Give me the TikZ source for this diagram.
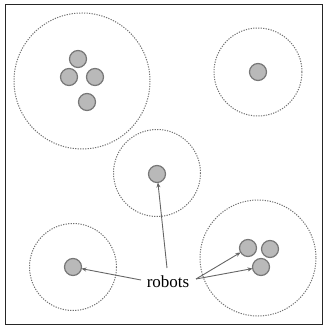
\documentclass[tikz,border=0pt]{standalone}
\usepackage{fontspec}
\setmainfont{Liberation Serif}
\usetikzlibrary{arrows.meta}
\definecolor{rfill}{HTML}{B9B9B9}
\definecolor{rline}{HTML}{777777}
\definecolor{zone}{HTML}{707070}
\tikzset{
  robot/.style={circle, draw=rline, fill=rfill, line width=1.2pt, minimum size=17pt, inner sep=0pt},
  zonecirc/.style={draw=zone, line width=1pt, dash pattern=on 1.2pt off 1.3pt},
  pointer/.style={draw=gray!80!black, line width=0.9pt, -{Stealth[length=5pt,width=4pt,fill=black]}, shorten >=-0.5pt},
}
\begin{document}
\begin{tikzpicture}[x=1pt,y=-1pt]
\useasboundingbox (0,0) rectangle (323,328);
\draw[line width=1pt, black!85] (5.5,4.5) rectangle (322.5,324.5);
% zones
\draw[zonecirc] (82,81) circle[radius=68];
\draw[zonecirc] (258,72) circle[radius=44];
\draw[zonecirc] (157,173) circle[radius=43.5];
\draw[zonecirc] (73,267) circle[radius=43.5];
\draw[zonecirc] (258,258) circle[radius=58];
% robots
\node[robot] (a1) at (78,59) {};
\node[robot] (a2) at (69,77) {};
\node[robot] (a3) at (95,77) {};
\node[robot] (a4) at (87,102) {};
\node[robot] (b1) at (258,72) {};
\node[robot] (m) at (157,174) {};
\node[robot] (l) at (73,267) {};
\node[robot] (r1) at (248,248) {};
\node[robot] (r2) at (270,249) {};
\node[robot] (r3) at (261,267) {};
% label
\node[font=\fontsize{17}{20}\selectfont, inner sep=1pt] (lbl) at (168,282) {robots};
\coordinate (lt) at (167,268);
\coordinate (ll) at (141,280);
\coordinate (lr) at (196,279);
\draw[pointer] (lt) -- (m);
\draw[pointer] (ll) -- (l);
\draw[pointer] (lr) -- (r1);
\draw[pointer] (lr) -- (r3);
\end{tikzpicture}
\end{document}
